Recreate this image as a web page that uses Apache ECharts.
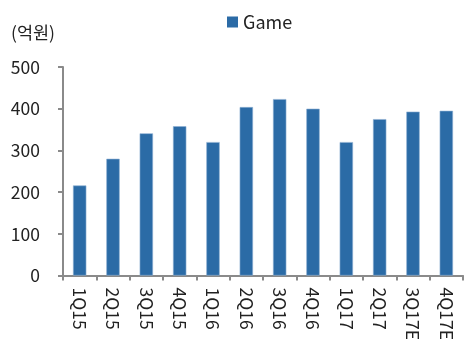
<!DOCTYPE html>
<html>
<head>
<meta charset="utf-8">
<script src="https://cdn.jsdelivr.net/npm/echarts@6/dist/echarts.min.js"></script>
<style>
  html, body { margin: 0; padding: 0; background: #fff; }
  #chart { width: 465px; height: 343px; }
</style>
</head>
<body>
<div id="chart"></div>
<script>
// 분기
var quarters = ['1Q15', '2Q15', '3Q15', '4Q15', '1Q16', '2Q16', '3Q16', '4Q16', '1Q17', '2Q17', '3Q17E', '4Q17E'];
// Game 매출 (억원)
var game = [216, 280, 341, 358, 320, 404, 423, 400, 320, 375, 393, 395];

var font = 'Noto Sans CJK KR';
var myChart = echarts.init(document.getElementById('chart'));
var option = {
  color: ['#2B6BA6'],
  textStyle: { fontFamily: font },
  animation: false,
  title: {
    text: '(억원)',
    left: 6,
    top: 19,
    textStyle: { fontFamily: font, fontSize: 17.5, fontWeight: 'normal', color: '#222' }
  },
  legend: {
    data: ['Game'],
    left: 222,
    top: 8,
    icon: 'rect',
    itemWidth: 11,
    itemHeight: 11,
    itemGap: 4,
    itemStyle: { borderWidth: 0 },
    textStyle: { fontFamily: font, fontSize: 18, color: '#222' }
  },
  grid: { left: 63, right: 2, top: 67, bottom: 66 },
  xAxis: {
    type: 'category',
    data: quarters,
    axisLine: { lineStyle: { color: '#8a8a8a', width: 2 } },
    axisTick: { show: true, length: 5, lineStyle: { color: '#8a8a8a', width: 2 } },
    axisLabel: { rotate: -90, margin: 12, fontSize: 17.5, color: '#222', fontFamily: font }
  },
  yAxis: {
    type: 'value',
    min: 0,
    max: 500,
    interval: 100,
    splitLine: { show: false },
    axisLine: { show: true, lineStyle: { color: '#8a8a8a', width: 2 } },
    axisTick: { show: true, length: 5, lineStyle: { color: '#8a8a8a', width: 2 } },
    axisLabel: { margin: 23, fontSize: 17.5, color: '#222', fontFamily: font }
  },
  series: [
    {
      name: 'Game',
      type: 'bar',
      data: game,
      barWidth: '40%',
      itemStyle: { borderColor: '#8fb0d3', borderWidth: 0.6 }
    }
  ]
};
myChart.setOption(option);
</script>
</body>
</html>
